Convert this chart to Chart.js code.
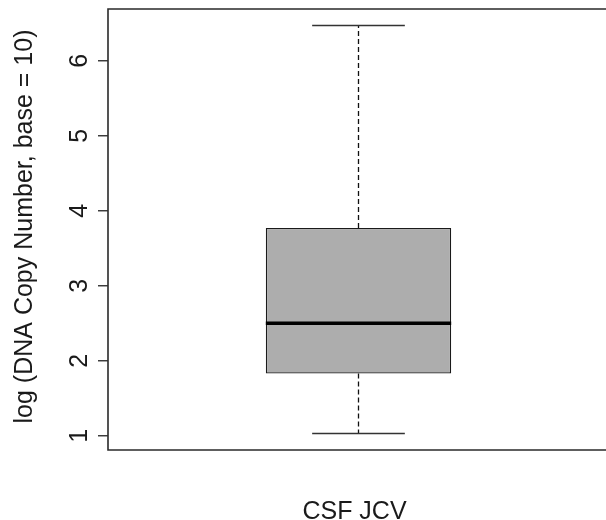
<!DOCTYPE html>
<html>
<head>
<meta charset="utf-8">
<script src="https://cdn.jsdelivr.net/npm/chart.js@4/dist/chart.umd.min.js"></script>
<style>
  html, body { margin: 0; padding: 0; background: #fff; overflow: hidden; }
  /* a bit wider than the window: the right side of the frame falls off the picture */
  #wrap { width: 612px; height: 520px; position: relative; }
</style>
</head>
<body>
<div id="wrap"><canvas id="myChart"></canvas></div>
<script>
// Box plot summary
const categories = ['CSF JCV'];
const whiskerLow = [1.03];
const lowerQuartile = [1.83];
const medianValues = [2.50];
const upperQuartile = [3.77];
const whiskerHigh = [6.47];
const yTicks = [1, 2, 3, 4, 5, 6];
const yTitle = 'log (DNA Copy Number, base = 10)';

const FONT = '"Liberation Sans", Arial, Helvetica, sans-serif';
const TEXT_COLOR = '#1a1a1a';

const ctx = document.getElementById('myChart').getContext('2d');

// Draws frame, axis ticks/labels, whiskers and median (R boxplot look)
const boxPlotPlugin = {
  id: 'boxPlotExtras',
  beforeDatasetsDraw: (chart) => {
    const c = chart.ctx;
    const y = chart.scales.y;
    const x = chart.scales.x;
    const meta = chart.getDatasetMeta(0);

    c.save();
    // whiskers + caps
    meta.data.forEach((bar, i) => {
      const cx = x.getPixelForValue(i);
      const capHalf = bar.width / 4;
      c.strokeStyle = '#111';
      c.lineWidth = 1.3;
      c.setLineDash([5, 3]);
      c.beginPath();
      c.moveTo(cx, y.getPixelForValue(upperQuartile[i]));
      c.lineTo(cx, y.getPixelForValue(whiskerHigh[i]));
      c.moveTo(cx, y.getPixelForValue(lowerQuartile[i]));
      c.lineTo(cx, y.getPixelForValue(whiskerLow[i]));
      c.stroke();
      c.setLineDash([]);
      c.strokeStyle = '#333';
      c.lineWidth = 1.5;
      c.beginPath();
      const yh = y.getPixelForValue(whiskerHigh[i]);
      const yl = y.getPixelForValue(whiskerLow[i]);
      c.moveTo(cx - capHalf, yh); c.lineTo(cx + capHalf, yh);
      c.moveTo(cx - capHalf, yl); c.lineTo(cx + capHalf, yl);
      c.stroke();
    });
    c.restore();
  },
  afterDatasetsDraw: (chart) => {
    const c = chart.ctx;
    const { left, right, top, bottom } = chart.chartArea;
    const y = chart.scales.y;
    const x = chart.scales.x;
    const meta = chart.getDatasetMeta(0);

    c.save();
    // median line
    meta.data.forEach((bar, i) => {
      const cx = x.getPixelForValue(i);
      const half = bar.width / 2;
      const ym = y.getPixelForValue(medianValues[i]);
      c.strokeStyle = '#000';
      c.lineWidth = 3.5;
      c.beginPath();
      c.moveTo(cx - half, ym);
      c.lineTo(cx + half, ym);
      c.stroke();
    });

    // frame: left, top and bottom (the right edge lies outside the picture)
    c.strokeStyle = '#2a2a2a';
    c.lineWidth = 1.6;
    c.beginPath();
    c.moveTo(right + 10, top);
    c.lineTo(left, top);
    c.lineTo(left, bottom);
    c.lineTo(right + 10, bottom);
    c.stroke();

    // y ticks and labels
    c.strokeStyle = '#333';
    c.lineWidth = 1.4;
    c.fillStyle = TEXT_COLOR;
    c.font = '25px ' + FONT;
    c.textAlign = 'center';
    c.textBaseline = 'middle';
    yTicks.forEach((t) => {
      const py = y.getPixelForValue(t);
      c.beginPath();
      c.moveTo(left - 10, py);
      c.lineTo(left, py);
      c.stroke();
      c.save();
      c.translate(80, py);
      c.rotate(-Math.PI / 2);
      c.fillText(String(t), 0, 0);
      c.restore();
    });

    // y axis title
    c.save();
    c.translate(25, (top + bottom) / 2 - 3);
    c.rotate(-Math.PI / 2);
    c.fillText(yTitle, 0, 0);
    c.restore();

    // x labels
    c.textBaseline = 'alphabetic';
    categories.forEach((lab, i) => {
      c.fillText(lab, x.getPixelForValue(i) - 4, 519);
    });
    c.restore();
  }
};

const chart = new Chart(ctx, {
  type: 'bar',
  data: {
    labels: categories,
    datasets: [{
      label: 'box',
      data: categories.map((_, i) => [lowerQuartile[i], upperQuartile[i]]),
      backgroundColor: '#adadad',
      borderColor: '#1a1a1a',
      borderWidth: 1.3,
      borderSkipped: false,
      barPercentage: 0.37,
      categoryPercentage: 1.0
    }]
  },
  options: {
    responsive: true,
    maintainAspectRatio: false,
    animation: false,
    layout: {
      padding: { left: 108, top: 9, right: 3, bottom: 70 }
    },
    scales: {
      x: {
        type: 'category',
        display: false
      },
      y: {
        type: 'linear',
        display: false,
        min: 0.81,
        max: 6.69
      }
    },
    plugins: {
      legend: { display: false },
      tooltip: { enabled: false }
    }
  },
  plugins: [boxPlotPlugin]
});
</script>
</body>
</html>
